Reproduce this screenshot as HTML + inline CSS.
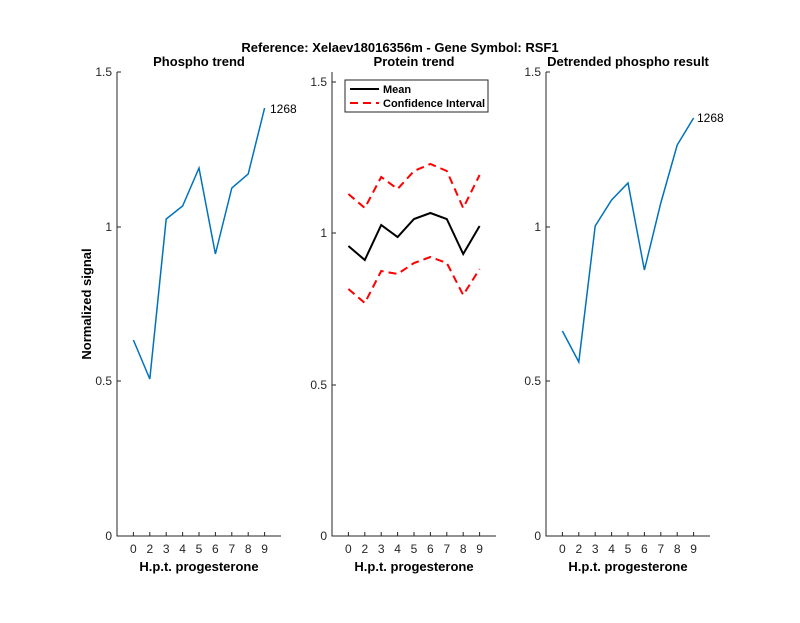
<!DOCTYPE html><html><head><style>body{margin:0;background:#fff}</style></head><body>
<svg width="800" height="618" xmlns="http://www.w3.org/2000/svg" font-family="Liberation Sans, sans-serif">
<rect width="800" height="618" fill="#fff"/>
<text x="400" y="52" font-size="13" font-weight="bold" text-anchor="middle">Reference:  Xelaev18016356m - Gene Symbol:  RSF1</text>
<g stroke="#262626" stroke-width="1" fill="none">
<path d="M117,72V536H281"/><path d="M332,72V536H496"/><path d="M546,72V536H710"/>
<path d="M133.4,536v-4M149.8,536v-4M166.2,536v-4M182.6,536v-4M199,536v-4M215.4,536v-4M231.8,536v-4M248.2,536v-4M264.6,536v-4"/>
<path d="M348.4,536v-4M364.8,536v-4M381.2,536v-4M397.6,536v-4M414,536v-4M430.4,536v-4M446.8,536v-4M463.2,536v-4M479.6,536v-4"/>
<path d="M562.4,536v-4M578.8,536v-4M595.2,536v-4M611.6,536v-4M628,536v-4M644.4,536v-4M660.8,536v-4M677.2,536v-4M693.6,536v-4"/>
<path d="M117,72h4M117,227h4M117,381h4M332,82h4M332,233h4M332,385h4M546,72h4M546,227h4M546,381h4"/>
</g>
<g font-size="12" fill="#262626" text-anchor="middle">
<g transform="translate(0,553)"><text x="133.4">0</text><text x="149.8">2</text><text x="166.2">3</text><text x="182.6">4</text><text x="199">5</text><text x="215.4">6</text><text x="231.8">7</text><text x="248.2">8</text><text x="264.6">9</text></g>
<g transform="translate(215,553)"><text x="133.4">0</text><text x="149.8">2</text><text x="166.2">3</text><text x="182.6">4</text><text x="199">5</text><text x="215.4">6</text><text x="231.8">7</text><text x="248.2">8</text><text x="264.6">9</text></g>
<g transform="translate(429,553)"><text x="133.4">0</text><text x="149.8">2</text><text x="166.2">3</text><text x="182.6">4</text><text x="199">5</text><text x="215.4">6</text><text x="231.8">7</text><text x="248.2">8</text><text x="264.6">9</text></g>
</g>
<g font-size="12" fill="#262626" text-anchor="end">
<text x="112" y="76">1.5</text><text x="112" y="231">1</text><text x="112" y="385">0.5</text><text x="112" y="540">0</text>
<text x="327" y="86">1.5</text><text x="327" y="237">1</text><text x="327" y="389">0.5</text><text x="327" y="540">0</text>
<text x="541" y="76">1.5</text><text x="541" y="231">1</text><text x="541" y="385">0.5</text><text x="541" y="540">0</text>
</g>
<g font-size="13" font-weight="bold" fill="#000" text-anchor="middle">
<text x="199" y="66">Phospho trend</text><text x="414" y="66">Protein trend</text><text x="628" y="66">Detrended phospho result</text>
<text x="199" y="571">H.p.t. progesterone</text><text x="414" y="571">H.p.t. progesterone</text><text x="628" y="571">H.p.t. progesterone</text>
<text transform="translate(91,304) rotate(-90)">Normalized signal</text>
</g>
<polyline fill="none" stroke="#0072BD" stroke-width="1.5" points="133.4,340 149.8,379 166.2,219 182.6,206 199,168 215.4,254 231.8,188 248.2,174 264.6,108"/>
<text x="270" y="113" font-size="12">1268</text>
<polyline fill="none" stroke="#0072BD" stroke-width="1.5" points="562.4,331 578.8,362 595.2,226 611.6,200 628,183 644.4,270 660.8,203 677.2,145 693.6,118"/>
<text x="697" y="122" font-size="12">1268</text>
<polyline fill="none" stroke="#f00" stroke-width="2" stroke-dasharray="8,5" points="348.4,194 364.8,208 381.2,177 397.6,189 414,171 430.4,164 446.8,171 463.2,208 479.6,175"/>
<polyline fill="none" stroke="#f00" stroke-width="2" stroke-dasharray="8,5" points="348.4,289 364.8,303 381.2,271 397.6,274 414,263 430.4,257 446.8,263 463.2,295 479.6,269"/>
<polyline fill="none" stroke="#000" stroke-width="2" points="348.4,246 364.8,260 381.2,225 397.6,237 414,219 430.4,213 446.8,219 463.2,254 479.6,226"/>
<rect x="345" y="80" width="143" height="32" fill="#fff" stroke="#262626"/>
<line x1="350" y1="89" x2="379" y2="89" stroke="#000" stroke-width="2"/>
<line x1="350" y1="103" x2="379" y2="103" stroke="#f00" stroke-width="2" stroke-dasharray="8,5"/>
<text x="383" y="93" font-size="11" font-weight="bold">Mean</text>
<text x="383" y="107" font-size="11" font-weight="bold">Confidence Interval</text>
</svg>
</body></html>
